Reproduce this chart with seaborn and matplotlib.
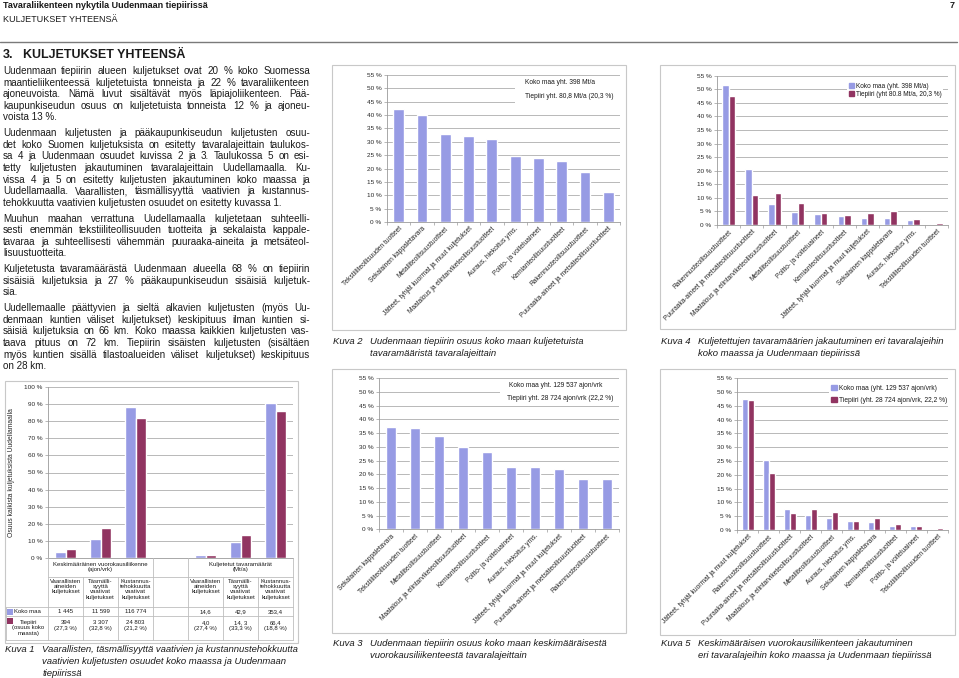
import numpy as np
import pandas as pd
import matplotlib
matplotlib.use("Agg")
import matplotlib.pyplot as plt
import seaborn as sns
from matplotlib.lines import Line2D
from matplotlib.patches import Rectangle, Patch
from matplotlib.ticker import FuncFormatter

W, H = 959, 678

# Kuva 2: tiepiirin osuus koko maan tavaramääristä
kuva2_lajit = ["Tekstiiliteollisuuden tuotteet", "Sekalainen kappaletavara",
               "Metalliteollisuustuotteet", "Jätteet, tyhjät kuormat ja muut kuljetukset",
               "Maatalous ja elintarviketeollisuustuotteet", "Auraus, hiekoitus yms.",
               "Poltto- ja voiteluaineet", "Kemianteollisuustuotteet",
               "Rakennusteollisuustuotteet", "Puuraaka-aineet ja metsäteollisuustuotteet"]
kuva2_osuus = [42.2, 39.9, 33.0, 32.3, 31.2, 24.7, 23.8, 23.0, 18.8, 11.2]

# Kuva 3: tiepiirin osuus koko maan KVL:stä
kuva3_lajit = ["Sekalainen kappaletavara", "Tekstiiliteollisuuden tuotteet",
               "Metalliteollisuustuotteet", "Maatalous ja elintarviketeollisuustuotteet",
               "Kemianteollisuustuotteet", "Poltto- ja voiteluaineet",
               "Auraus, hiekoitus yms.", "Jätteet, tyhjät kuormat ja muut kuljetukset",
               "Puuraaka-aineet ja metsäteollisuustuotteet", "Rakennusteollisuustuotteet"]
kuva3_osuus = [37.4, 36.8, 34.1, 29.9, 28.3, 22.8, 22.8, 22.1, 18.2, 18.2]

# Kuva 4: tavaramäärien jakautuminen
kuva4_lajit = ["Rakennusteollisuustuotteet", "Puuraaka-aineet ja metsäteollisuustuotteet",
               "Maatalous ja elintarviketeollisuustuotteet", "Metalliteollisuustuotteet",
               "Poltto- ja voiteluaineet", "Kemianteollisuustuotteet",
               "Jätteet, tyhjät kuormat ja muut kuljetukset", "Sekalainen kappaletavara",
               "Auraus, hiekoitus yms.", "Tekstiiliteollisuuden tuotteet"]
kuva4_koko = [51.4, 20.6, 7.8, 4.9, 4.1, 3.3, 2.6, 2.6, 1.7, 0.3]
kuva4_tiepiiri = [47.5, 11.2, 11.8, 8.0, 4.6, 3.8, 4.4, 5.3, 2.3, 0.6]
kuva4_sarjat = ["Koko maa (yht. 398 Mt/a)", "Tiepiiri (yht 80.8 Mt/a, 20,3 %)"]

# Kuva 5: KVL:n jakautuminen
kuva5_lajit = ["Jätteet, tyhjät kuormat ja muut kuljetukset", "Rakennusteollisuustuotteet",
               "Puuraaka-aineet ja metsäteollisuustuotteet",
               "Maatalous ja elintarviketeollisuustuotteet", "Metalliteollisuustuotteet",
               "Auraus, hiekoitus yms.", "Sekalainen kappaletavara",
               "Kemianteollisuustuotteet", "Poltto- ja voiteluaineet",
               "Tekstiiliteollisuuden tuotteet"]
kuva5_koko = [47.4, 25.4, 7.5, 5.4, 4.4, 3.3, 2.8, 1.6, 1.3, 0.3]
kuva5_tiepiiri = [47.0, 20.5, 6.0, 7.5, 6.7, 3.3, 4.5, 2.1, 1.3, 0.9]
kuva5_sarjat = ["Koko maa (yht. 129 537 ajon/vrk)", "Tiepiiri (yht. 28 724 ajon/vrk, 22,2 %)"]

# Kuva 1: vaaralliset, täsmälliset ja kustannustehokkaat kuljetukset
kuva1_sarakkeet = ["Vaaralliset (ajon/vrk)", "Täsmälliset (ajon/vrk)", "Kustannustehokkaat (ajon/vrk)",
                   "", "Vaaralliset (Mt/a)", "Täsmälliset (Mt/a)", "Kustannustehokkaat (Mt/a)"]
kuva1_koko = [3.6, 11.0, 88.6, np.nan, 1.3, 9.2, 90.6]
kuva1_tiepiiri = [5.0, 17.6, 82.2, np.nan, 1.3, 13.4, 86.3]
kuva1_ryhmat = ["Keskimääräinen vuorokausiliikenne\n(ajon/vrk)", "Kuljetetut tavaramäärät\n(Mt/a)"]
kuva1_otsikot = ["Vaarallisten\naineiden\nkuljetukset", "Täsmälli-\nsyyttä\nvaativat\nkuljetukset",
                 "Kustannus-\ntehokkuutta\nvaativat\nkuljetukset", "",
                 "Vaarallisten\naineiden\nkuljetukset", "Täsmälli-\nsyyttä\nvaativat\nkuljetukset",
                 "Kustannus-\ntehokkuutta\nvaativat\nkuljetukset"]
kuva1_koko_txt = ["1 445", "11 599", "116 774", "", "14,6", "42,9", "353,4"]
kuva1_tie_txt = ["394\n(27,3 %)", "3 307\n(32,8 %)", "24 803\n(21,2 %)", "",
                 "4,0\n(27,4 %)", "14, 3\n(33,3 %)", "66,4\n(18,8 %)"]

# Leipäteksti (rivitys kuten alkuperäisessä)
kappaleet = [
    ["Uudenmaan tiepiirin alueen kuljetukset ovat 20 % koko Suomessa",
     "maantieliikenteessä kuljetetuista tonneista ja 22 % tavaraliikenteen",
     "ajoneuvoista. Nämä luvut sisältävät myös läpiajoliikenteen. Pää-",
     "kaupunkiseudun osuus on kuljetetuista tonneista 12 % ja ajoneu-",
     "voista 13 %."],
    ["Uudenmaan kuljetusten ja pääkaupunkiseudun kuljetusten osuu-",
     "det koko Suomen kuljetuksista on esitetty tavaralajeittain taulukos-",
     "sa 4 ja Uudenmaan osuudet kuvissa 2 ja 3. Taulukossa 5 on esi-",
     "tetty kuljetusten jakautuminen tavaralajeittain Uudellamaalla. Ku-",
     "vissa 4 ja 5 on esitetty kuljetusten jakautuminen koko maassa ja",
     "Uudellamaalla. Vaarallisten, täsmällisyyttä vaativien ja kustannus-",
     "tehokkuutta vaativien kuljetusten osuudet on esitetty kuvassa 1."],
    ["Muuhun maahan verrattuna Uudellamaalla kuljetetaan suhteelli-",
     "sesti enemmän tekstiiliteollisuuden tuotteita ja sekalaista kappale-",
     "tavaraa ja suhteellisesti vähemmän puuraaka-aineita ja metsäteol-",
     "lisuustuotteita."],
    ["Kuljetetusta tavaramäärästä Uudenmaan alueella 68 % on tiepiirin",
     "sisäisiä kuljetuksia ja 27 % pääkaupunkiseudun sisäisiä kuljetuk-",
     "sia."],
    ["Uudellemaalle päättyvien ja sieltä alkavien kuljetusten (myös Uu-",
     "denmaan kuntien väliset kuljetukset) keskipituus ilman kuntien si-",
     "säisiä kuljetuksia on 66 km. Koko maassa kaikkien kuljetusten vas-",
     "taava pituus on 72 km. Tiepiirin sisäisten kuljetusten (sisältäen",
     "myös kuntien sisällä tilastoalueiden väliset kuljetukset) keskipituus",
     "on 28 km."],
]

KOKO = "#979BE4"
TIE = "#913461"
HARMAA = "#9A9A9A"

sns.set_style("white")
plt.rcParams["font.family"] = ["Liberation Sans", "DejaVu Sans"]
plt.rcParams["text.color"] = "#1A1A1A"

fig = plt.figure(figsize=(W / 100, H / 100), dpi=100)
fig.patch.set_facecolor("white")
rend = fig.canvas.get_renderer()


def fx(x):
    return x / W


def fy(y):
    return 1 - y / H


def teksti(x, y, s, **kw):
    kw.setdefault("va", "center")
    return fig.text(fx(x), fy(y), s, **kw)


def viiva(x0, y0, x1, y1, c="#BEBEBE", lw=0.6):
    fig.add_artist(Line2D([fx(x0), fx(x1)], [fy(y0), fy(y1)], color=c, lw=lw,
                          transform=fig.transFigure))


def kehys(x0, y0, x1, y1):
    fig.add_artist(Rectangle((fx(x0), fy(y1)), (x1 - x0) / W, (y1 - y0) / H,
                             transform=fig.transFigure, facecolor="white",
                             edgecolor="#C8C8C8", lw=0.8, zorder=-5))


def akselit(x0, y0, x1, y1):
    return fig.add_axes([fx(x0), fy(y1), (x1 - x0) / W, (y1 - y0) / H])


def tasattu(rivit, x0, x1, y, koko=7.1, lh=11.6):
    for i, rivi in enumerate(rivit):
        sanat = rivi.split(" ")
        if i == len(rivit) - 1 or len(sanat) == 1:
            teksti(x0, y, rivi, fontsize=koko)
        else:
            ts = [teksti(0, y, s, fontsize=koko) for s in sanat]
            lev = [t.get_window_extent(rend).width for t in ts]
            vali = max((x1 - x0 - sum(lev)) / (len(sanat) - 1), 1.8)
            x = x0
            for t, w in zip(ts, lev):
                t.set_x(fx(x))
                x += w + vali
        y += lh
    return y - lh


def pylvaat(ax, lajit, sarjat, arvot, leveys):
    rivit = [(l, s, v) for s, vals in zip(sarjat, arvot) for l, v in zip(lajit, vals)
             if not np.isnan(v)]
    df = pd.DataFrame(rivit, columns=["laji", "sarja", "osuus"])
    sns.barplot(data=df, x="laji", y="osuus", hue="sarja", order=lajit, hue_order=sarjat,
                palette=[KOKO, TIE][:len(sarjat)], width=leveys, saturation=1,
                legend=False, ax=ax)


def tyyli(ax, ymax, askel, lajit=None, fs=4.8):
    n = len(ax.get_xticks())
    ax.set_ylim(0, ymax)
    ax.set_yticks(np.arange(0, ymax + 0.1, askel))
    ax.yaxis.set_major_formatter(FuncFormatter(lambda v, p: f"{v:.0f} %"))
    ax.grid(axis="y", color="#ADADAD", lw=0.6)
    ax.set_axisbelow(True)
    for s in ["top", "right"]:
        ax.spines[s].set_visible(False)
    for s in ["left", "bottom"]:
        ax.spines[s].set_color(HARMAA)
        ax.spines[s].set_linewidth(0.6)
    ax.tick_params(axis="y", labelsize=4.6, left=True, length=2, width=0.5,
                   color=HARMAA, pad=2)
    ax.set_xticks(np.arange(-0.5, n), minor=True)
    ax.tick_params(axis="x", which="minor", bottom=True, length=2.5, width=0.5, color=HARMAA)
    ax.tick_params(axis="x", which="major", length=0, pad=2.5)
    ax.set_xlim(-0.5, n - 0.5)
    if lajit is None:
        ax.set_xticklabels([])
    else:
        ax.set_xticks(range(n))
        ax.set_xticklabels(lajit, rotation=45, ha="right", va="top",
                           rotation_mode="anchor", fontsize=fs)
    ax.set_xlabel("")
    ax.set_ylabel("")


def kuvateksti(x, y, nro, rivit, lh=12):
    teksti(x, y, f"Kuva {nro}", fontsize=6.8, style="italic")
    for i, r in enumerate(rivit):
        teksti(x + 37.5, y + i * lh, r, fontsize=6.8, style="italic")


# --- otsikot ---
teksti(3, 5.5, "Tavaraliikenteen nykytila Uudenmaan tiepiirissä", fontsize=6.5, fontweight="bold")
teksti(955, 6, "7", fontsize=6.5, fontweight="bold", ha="right")
teksti(3, 19.5, "KULJETUKSET YHTEENSÄ", fontsize=6.5)
viiva(0, 42.3, 957, 42.3, c="#7A7A7A", lw=1.0)
teksti(3, 55, "3.", fontsize=9, fontweight="bold")
teksti(23, 55, "KULJETUKSET YHTEENSÄ", fontsize=9, fontweight="bold")

y = 71
for k in kappaleet:
    y = tasattu(k, 3, 310, y) + 15.8

# --- Kuva 2 ---
kehys(332, 65, 626, 330)
ax2 = akselit(387, 75, 620, 222)
pylvaat(ax2, kuva2_lajit, ["Tiepiiri"], [kuva2_osuus], 0.46)
tyyli(ax2, 55, 5, kuva2_lajit)
fig.add_artist(Rectangle((fx(515), fy(103)), 106 / W, 26 / H, transform=fig.transFigure,
                         facecolor="white", edgecolor="none", zorder=2))
teksti(525, 83, "Koko maa yht. 398 Mt/a", fontsize=4.8, zorder=3)
teksti(525, 96, "Tiepiiri yht. 80,8 Mt/a (20,3 %)", fontsize=4.8, zorder=3)
kuvateksti(333, 341, 2, ["Uudenmaan tiepiirin osuus koko maan kuljetetuista",
                         "tavaramääristä tavaralajeittain"])

# --- Kuva 4 ---
kehys(660, 65, 955, 329)
ax4 = akselit(717, 75.7, 948, 225)
pylvaat(ax4, kuva4_lajit, kuva4_sarjat, [kuva4_koko, kuva4_tiepiiri], 0.56)
tyyli(ax4, 55, 5, kuva4_lajit)
ax4.legend(handles=[Patch(color=KOKO), Patch(color=TIE)], labels=kuva4_sarjat,
           loc="upper left", bbox_to_anchor=(fx(844), fy(78)), bbox_transform=fig.transFigure,
           fontsize=4.7, handlelength=0.9, handleheight=0.9, handletextpad=0.3,
           labelspacing=0.15, borderpad=0.2, frameon=True, fancybox=False,
           edgecolor="none", facecolor="white", framealpha=1)
kuvateksti(661, 341, 4, ["Kuljetettujen tavaramäärien jakautuminen eri tavaralajeihin",
                         "koko maassa ja Uudenmaan tiepiirissä"])

# --- Kuva 3 ---
kehys(332, 369, 626, 633)
ax3 = akselit(379, 378.3, 619, 529.3)
pylvaat(ax3, kuva3_lajit, ["Tiepiiri"], [kuva3_osuus], 0.43)
tyyli(ax3, 55, 5, kuva3_lajit)
fig.add_artist(Rectangle((fx(500), fy(406)), 120 / W, 27 / H, transform=fig.transFigure,
                         facecolor="white", edgecolor="none", zorder=2))
teksti(509, 385.7, "Koko maa yht. 129 537 ajon/vrk", fontsize=4.8, zorder=3)
teksti(507, 398.3, "Tiepiiri yht. 28 724 ajon/vrk (22,2 %)", fontsize=4.8, zorder=3)
kuvateksti(333, 643, 3, ["Uudenmaan tiepiirin osuus koko maan keskimääräisestä",
                         "vuorokausiliikenteestä tavaralajeittain"])

# --- Kuva 5 ---
kehys(660, 369, 955, 635)
ax5 = akselit(737, 378.3, 948, 530)
pylvaat(ax5, kuva5_lajit, kuva5_sarjat, [kuva5_koko, kuva5_tiepiiri], 0.57)
tyyli(ax5, 55, 5, kuva5_lajit)
ax5.legend(handles=[Patch(color=KOKO), Patch(color=TIE)], labels=kuva5_sarjat,
           loc="upper left", bbox_to_anchor=(fx(826), fy(380)), bbox_transform=fig.transFigure,
           fontsize=4.8, handlelength=0.9, handleheight=0.9, handletextpad=0.3,
           labelspacing=0.75, borderpad=0.2, frameon=True, fancybox=False,
           edgecolor="none", facecolor="white", framealpha=1)
kuvateksti(661, 644, 5, ["Keskimääräisen vuorokausiliikenteen jakautuminen",
                         "eri tavaralajeihin koko maassa ja Uudenmaan tiepiirissä"])

# --- Kuva 1 ---
kehys(5, 381, 298, 643)
ax1 = akselit(48, 387.3, 293, 557.7)
pylvaat(ax1, kuva1_sarakkeet, ["Koko maa", "Tiepiiri"], [kuva1_koko, kuva1_tiepiiri], 0.61)
tyyli(ax1, 100, 10, None)
ax1.tick_params(axis="x", which="minor", length=0)
ax1.set_ylabel("Osuus kaikista kuljetuksista Uudellamaalla", fontsize=4.9)
ax1.yaxis.set_label_coords(-0.135, 0.5)

# taulukko kaavion alla
x0, cw = 48, 35
rivit_y = [557.7, 577, 607, 616, 640]
viiva(x0, 577, x0 + 7 * cw, 577)
for yy in rivit_y[2:]:
    viiva(6, yy, x0 + 7 * cw, yy)
viiva(6, 607, 6, 640)
for i in range(8):
    ylaraja = 557.7 if i in (0, 3, 4, 7) else 577
    viiva(x0 + i * cw, ylaraja, x0 + i * cw, 640)
for j, r in enumerate(kuva1_ryhmat):
    teksti(x0 + (1.5 + 4 * j) * cw, 567.3, r, fontsize=4.3, ha="center",
           multialignment="center", linespacing=1.05)
for i in range(7):
    cx = x0 + (i + 0.5) * cw
    teksti(cx, 579, kuva1_otsikot[i], fontsize=4.3, ha="center", va="top",
           multialignment="center", linespacing=1.05)
    teksti(cx, 611.7, kuva1_koko_txt[i], fontsize=4.3, ha="center")
    teksti(cx, 625.5, kuva1_tie_txt[i], fontsize=4.3, ha="center",
           multialignment="center", linespacing=1.3)
fig.add_artist(Rectangle((fx(7), fy(614.5)), 5.5 / W, 5.5 / H, transform=fig.transFigure,
                         facecolor=KOKO, edgecolor="none"))
teksti(14, 611.7, "Koko maa", fontsize=4.3)
fig.add_artist(Rectangle((fx(7), fy(623.5)), 5.5 / W, 5.5 / H, transform=fig.transFigure,
                         facecolor=TIE, edgecolor="none"))
teksti(28.5, 628, "Tiepiiri\n(osuus koko\nmaasta)", fontsize=4.3, ha="center",
       multialignment="center", linespacing=1.05)
kuvateksti(5, 649, 1, ["Vaarallisten, täsmällisyyttä vaativien ja kustannustehokkuutta",
                       "vaativien kuljetusten osuudet koko maassa ja Uudenmaan",
                       "tiepiirissä"])

fig.savefig("out.png", dpi=100)
